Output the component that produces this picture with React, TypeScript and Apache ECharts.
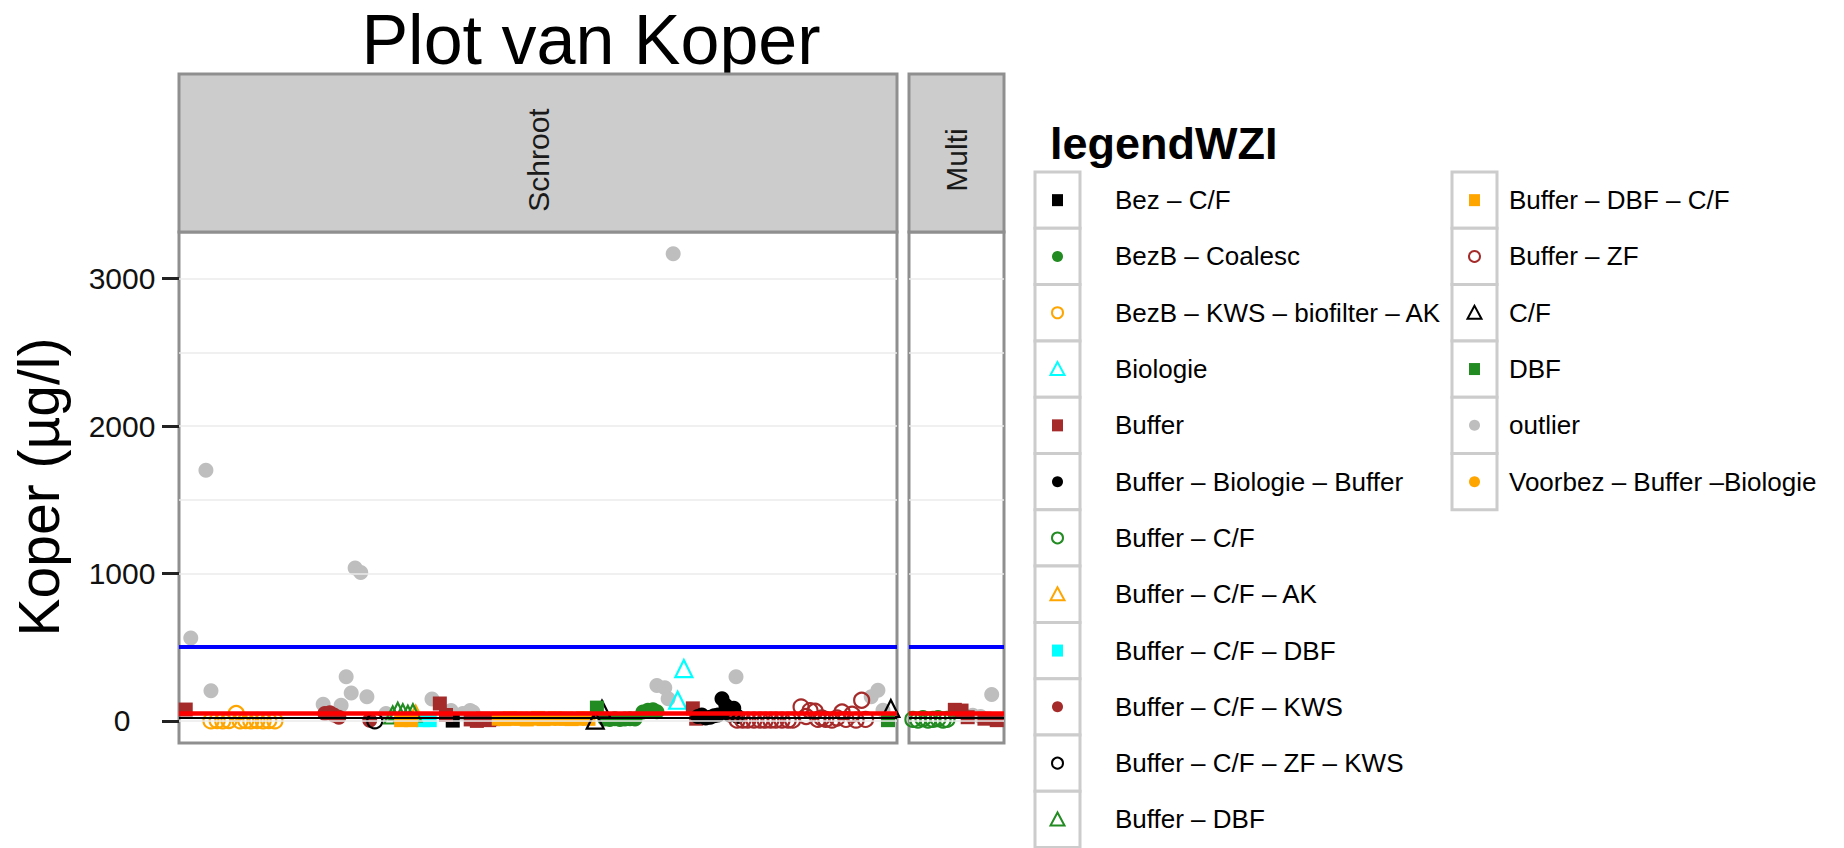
import React, { useEffect, useRef } from "react";
import * as echarts from "echarts";

const TITLE = "Plot van Koper";
const Y_TITLE = "Koper (µg/l)";
const LEGEND_TITLE = "legendWZI";
const PANELS = ["Schroot", "Multi"];
const Y_TICKS = [0, 1000, 2000, 3000];
const Y_GRID = [0, 500, 1000, 1500, 2000, 2500, 3000];
const NORM_BLUE = 500;
const NORM_RED = 50;
const NORM_BLACK = 20;

const GROUPS = [
  "Bez – C/F",
  "BezB – Coalesc",
  "BezB – KWS – biofilter – AK",
  "Biologie",
  "Buffer",
  "Buffer – Biologie – Buffer",
  "Buffer – C/F",
  "Buffer – C/F – AK",
  "Buffer – C/F – DBF",
  "Buffer – C/F – KWS",
  "Buffer – C/F – ZF – KWS",
  "Buffer – DBF",
  "Buffer – DBF – C/F",
  "Buffer – ZF",
  "C/F",
  "DBF",
  "outlier",
  "Voorbez – Buffer –Biologie",
];

// ---- data: [sample index, Koper µg/l] ----
// Schroot panel
const bezCF_S = [[48.8, 2]];
const bezbCoalesc_S = [[75.9, 12], [76.8, 10], [77.7, 14], [78.6, 10], [79.5, 12], [80.4, 15], [81.3, 12], [82.7, 60], [83.6, 72], [84.5, 75], [85.2, 62]];
const bezbKws_S = [[5.7, 0], [6.8, 2], [7.8, 0], [8.9, 3], [10.2, 50], [10.9, 0], [11.9, 2], [12.8, 0], [13.9, 3], [15.0, 0], [16.0, 2], [17.1, 0]];
const biologie_S = [[88.9, 140], [90.0, 355]];
const buffer_S = [[1.2, 77], [46.5, 118], [47.6, 40], [52.0, 10], [53.1, 0], [54.2, 15], [55.3, 5], [56.0, 12], [91.6, 85], [92.2, 15]];
const bufBioBuf_S = [[92.5, 30], [93.2, 40], [93.9, 20], [94.7, 25], [95.4, 35], [96.1, 40], [96.8, 150], [97.5, 105], [98.2, 40], [98.9, 85], [99.6, 30]];
const bufCfAk_S = [[42.2, 45]];
const bufCfDbf_S = [[43.5, 5], [44.7, 5]];
const bufCfKws_S = [[26.0, 50], [26.9, 55], [27.6, 40], [28.5, 25], [34.0, 5]];
const bufCfZfKws_S = [[34.9, 0]];
const bufDbf_S = [[38.1, 40], [39.0, 65], [39.9, 55], [40.8, 45], [41.7, 55]];
const bufDbfCf_S = [[39.6, 5], [41.4, 5], [57, 15], [58, 12], [59, 18], [60, 14], [61, 16], [62, 10], [63, 15], [64, 20], [65, 12], [66, 15], [67, 18], [68, 14], [69, 16], [70, 12], [71, 15], [72, 18], [73, 14]];
const bufZf_S = [[99.5, 5], [100.5, 5], [101.4, 5], [102.5, 5], [103.6, 5], [104.5, 5], [105.5, 5], [106.4, 5], [107.5, 5], [108.6, 5], [109.4, 5], [110.9, 95], [111.8, 30], [112.5, 70], [113.4, 65], [113.9, 10], [114.6, 20], [115.3, 10], [116.4, 5], [117.3, 20], [118.2, 60], [118.9, 10], [120.0, 45], [120.7, 5], [121.7, 140], [122.4, 10]];
const cf_S = [[74.2, 5], [75.4, 80], [126.9, 84]];
const dbf_S = [[74.5, 90], [126.4, 5]];
const outlier_S = [[2.1, 563], [4.8, 1700], [5.7, 204], [25.7, 113], [28.9, 106], [29.8, 299], [30.7, 190], [31.4, 1038], [32.4, 1006], [33.5, 163], [36.9, 50], [45.1, 149], [48.5, 70], [50.6, 50], [51.9, 70], [52.4, 60], [85.2, 240], [86.6, 225], [87.2, 150], [88.1, 3170], [99.3, 300], [123.4, 163], [124.6, 208], [125.5, 72]];
const voorbez_S: number[][] = [];

// Multi panel
const bufCf_M = [[0.7, 10], [1.6, 5], [2.5, 15], [3.4, 5], [4.3, 10], [5.2, 15], [6.1, 5], [6.8, 10]];
const buffer_M = [[8.2, 75], [9.4, 70], [10.5, 25], [13.5, 15], [15.7, 5]];
const outlier_M = [[11.4, 38], [12.8, 30], [14.8, 179]];

const E: number[][] = [];
const SCHROOT = [bezCF_S, bezbCoalesc_S, bezbKws_S, biologie_S, buffer_S, bufBioBuf_S, E, bufCfAk_S, bufCfDbf_S, bufCfKws_S, bufCfZfKws_S, bufDbf_S, bufDbfCf_S, bufZf_S, cf_S, dbf_S, outlier_S, voorbez_S];
const MULTI = [E, E, E, E, buffer_M, E, bufCf_M, E, E, E, E, E, E, E, E, E, outlier_M, E];

// ---- styles ----
const BLACK = "#000000";
const GREEN = "#228B22";
const ORANGE = "#FFA500";
const CYAN = "#00FFFF";
const BROWN = "#A52A2A";
const GREY = "#BEBEBE";
const STYLE: { shape: string; color: string; filled: boolean }[] = [
  { shape: "rect", color: BLACK, filled: true },
  { shape: "circle", color: GREEN, filled: true },
  { shape: "circle", color: ORANGE, filled: false },
  { shape: "triangle", color: CYAN, filled: false },
  { shape: "rect", color: BROWN, filled: true },
  { shape: "circle", color: BLACK, filled: true },
  { shape: "circle", color: GREEN, filled: false },
  { shape: "triangle", color: ORANGE, filled: false },
  { shape: "rect", color: CYAN, filled: true },
  { shape: "circle", color: BROWN, filled: true },
  { shape: "circle", color: BLACK, filled: false },
  { shape: "triangle", color: GREEN, filled: false },
  { shape: "rect", color: ORANGE, filled: true },
  { shape: "circle", color: BROWN, filled: false },
  { shape: "triangle", color: BLACK, filled: false },
  { shape: "rect", color: GREEN, filled: true },
  { shape: "circle", color: GREY, filled: true },
  { shape: "circle", color: ORANGE, filled: true },
];

const FONT = '"Liberation Sans", Arial, sans-serif';

export default function App() {
  const ref = useRef<HTMLDivElement>(null);
  useEffect(() => {
    const chart = echarts.init(ref.current!, null, { renderer: "svg" });

    const P = [
      { left: 179, width: 718, xmax: 128 },
      { left: 909, width: 95, xmax: 17 },
    ];
    const TOP = 232;
    const H = 511;
    const STRIP_TOP = 74;

    const series: any[] = [];
    P.forEach((_, p) => {
      series.push({
        type: "line",
        xAxisIndex: p,
        yAxisIndex: p,
        data: [],
        z: 1,
        silent: true,
        markLine: {
          silent: true,
          symbol: ["none", "none"],
          label: { show: false },
          lineStyle: { color: "#EBEBEB", width: 1.5, type: "solid" },
          data: Y_GRID.map((v) => ({ yAxis: v })),
        },
      });
    });
    const order = GROUPS.map((_, i) => i);
    order.sort((a, b) => (a === 16 ? -1 : b === 16 ? 1 : a - b));
    order.forEach((i) => {
      const st = STYLE[i];
      [SCHROOT, MULTI].forEach((D, p) => {
        const data = D[i];
        if (!data.length) return;
        series.push({
          type: "scatter",
          name: GROUPS[i],
          xAxisIndex: p,
          yAxisIndex: p,
          data,
          z: 3,
          symbol: st.shape,
          symbolSize: st.shape === "triangle" ? 17 : st.shape === "rect" ? 14 : 15,
          itemStyle: st.filled
            ? { color: st.color, opacity: 1 }
            : { color: "rgba(0,0,0,0)", borderColor: st.color, borderWidth: 2.2, opacity: 1 },
        });
      });
    });
    P.forEach((_, p) => {
      series.push({
        type: "line",
        xAxisIndex: p,
        yAxisIndex: p,
        data: [],
        z: 5,
        silent: true,
        markLine: {
          silent: true,
          symbol: ["none", "none"],
          label: { show: false },
          data: [
            { yAxis: NORM_BLUE, lineStyle: { color: "#0000FF", width: 4, type: "solid" } },
            { yAxis: NORM_RED, lineStyle: { color: "#FF0000", width: 4.5, type: "solid" } },
            { yAxis: NORM_BLACK, lineStyle: { color: "#000000", width: 2, type: "solid" } },
          ],
        },
      });
    });

    const graphic: any[] = [];
    graphic.push({
      type: "text",
      x: 591,
      y: 40,
      style: { text: TITLE, font: `70px ${FONT}`, fill: "#000", align: "center", verticalAlign: "middle", textAlign: "center", textVerticalAlign: "middle" },
    });
    graphic.push({
      type: "text",
      x: 39,
      y: 487,
      rotation: Math.PI / 2,
      style: { text: Y_TITLE, font: `57px ${FONT}`, fill: "#000", align: "center", verticalAlign: "middle", textAlign: "center", textVerticalAlign: "middle" },
    });
    P.forEach((pp, p) => {
      graphic.push({
        type: "rect",
        shape: { x: pp.left, y: STRIP_TOP, width: pp.width, height: TOP - STRIP_TOP },
        style: { fill: "#CCCCCC", stroke: "#8F8F8F", lineWidth: 3 },
        z: 10,
      });
      graphic.push({
        type: "text",
        x: pp.left + pp.width / 2,
        y: 160,
        rotation: Math.PI / 2,
        z: 11,
        style: { text: PANELS[p], font: `30px ${FONT}`, fill: "#1A1A1A", align: "center", verticalAlign: "middle", textAlign: "center", textVerticalAlign: "middle" },
      });
    });
    graphic.push({
      type: "text",
      x: 1050,
      y: 143,
      style: { text: LEGEND_TITLE, font: `bold 45px ${FONT}`, fill: "#000", align: "left", verticalAlign: "middle", textAlign: "left", textVerticalAlign: "middle" },
    });
    const ROW = 56.3;
    GROUPS.forEach((name, i) => {
      const col = i < 12 ? 0 : 1;
      const row = col === 0 ? i : i - 12;
      const bx = col === 0 ? 1035 : 1452;
      const lx = col === 0 ? 1115 : 1509;
      const by = 172 + row * ROW;
      const cy = by + ROW / 2;
      const cx = bx + 22.5;
      graphic.push({
        type: "rect",
        shape: { x: bx, y: by, width: 45, height: ROW },
        style: { fill: "#FFFFFF", stroke: "#CCCCCC", lineWidth: 3 },
      });
      const st = STYLE[i];
      const sty = st.filled ? { fill: st.color } : { fill: "none", stroke: st.color, lineWidth: 2 };
      if (st.shape === "rect") {
        graphic.push({ type: "rect", shape: { x: cx - 5.5, y: cy - 6, width: 11, height: 12 }, style: sty, z: 2 });
      } else if (st.shape === "circle") {
        graphic.push({ type: "circle", shape: { cx, cy, r: 5.5 }, style: sty, z: 2 });
      } else {
        graphic.push({
          type: "polygon",
          shape: { points: [[cx, cy - 7], [cx - 7, cy + 6], [cx + 7, cy + 6]] },
          style: sty,
          z: 2,
        });
      }
      graphic.push({
        type: "text",
        x: lx,
        y: cy,
        style: { text: name, font: `26px ${FONT}`, fill: "#000", align: "left", verticalAlign: "middle", textAlign: "left", textVerticalAlign: "middle" },
      });
    });

    const option: any = {
      animation: false,
      backgroundColor: "#FFFFFF",
      grid: P.map((pp) => ({
        left: pp.left,
        top: TOP,
        width: pp.width,
        height: H,
        show: true,
        backgroundColor: "#FFFFFF",
        borderColor: "#8F8F8F",
        borderWidth: 3,
        containLabel: false,
      })),
      xAxis: P.map((pp, p) => ({
        type: "value",
        gridIndex: p,
        min: 0,
        max: pp.xmax,
        axisLine: { show: false },
        axisTick: { show: false },
        axisLabel: { show: false },
        splitLine: { show: false },
      })),
      yAxis: P.map((_, p) => ({
        type: "value",
        gridIndex: p,
        min: -150,
        max: 3317,
        axisLine: { show: false },
        splitLine: { show: false },
        axisTick: {
          show: p === 0,
          length: 17,
          customValues: Y_TICKS,
          lineStyle: { color: "#222", width: 3 },
        },
        axisLabel: {
          show: p === 0,
          customValues: Y_TICKS,
          formatter: (v: number) => String(v),
          margin: 57,
          align: "center",
          fontSize: 30,
          fontFamily: FONT,
          color: "#111",
        },
      })),
      series,
      graphic,
    };
    chart.setOption(option);
    return () => chart.dispose();
  }, []);
  return (
    <div
      ref={ref}
      style={{ position: "fixed", left: 0, top: 0, width: 1844, height: 848, background: "#fff" }}
    />
  );
}
